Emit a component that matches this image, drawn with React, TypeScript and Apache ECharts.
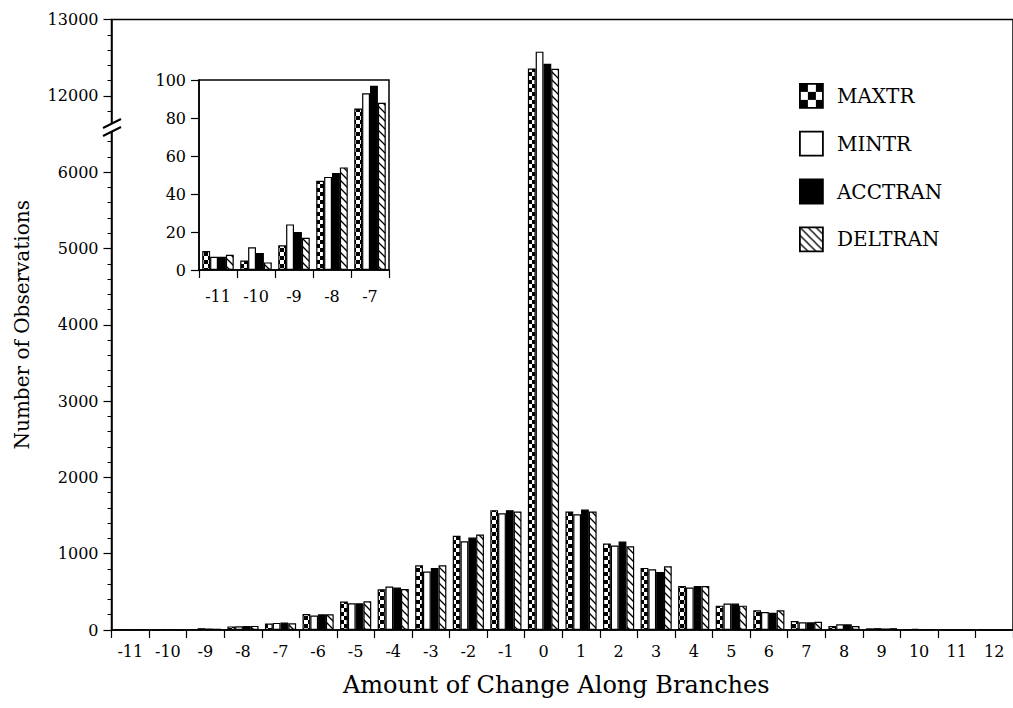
import React, { useEffect, useRef } from 'react';
import * as echarts from 'echarts';

const categories = ['-11', '-10', '-9', '-8', '-7', '-6', '-5', '-4', '-3', '-2', '-1', '0', '1', '2', '3', '4', '5', '6', '7', '8', '9', '10', '11', '12'];
const insetCategories = ['-11', '-10', '-9', '-8', '-7'];
const seriesNames = ['MAXTR', 'MINTR', 'ACCTRAN', 'DELTRAN'];

const maxtr = [10, 5, 13, 47, 85, 210, 372, 534, 849, 1234, 1571, 12360, 1553, 1133, 814, 577, 319, 258, 118, 52, 22, 12, 4, 2];
const mintr = [7, 12, 24, 49, 93, 190, 350, 569, 766, 1164, 1531, 12580, 1518, 1106, 796, 556, 346, 236, 101, 74, 25, 15, 5, 1];
const acctran = [7, 9, 20, 51, 97, 205, 350, 556, 814, 1212, 1571, 12420, 1579, 1159, 761, 577, 346, 227, 101, 74, 20, 10, 3, 1];
const deltran = [8, 4, 17, 54, 88, 205, 376, 538, 849, 1251, 1553, 12355, 1553, 1098, 836, 577, 319, 258, 109, 52, 24, 13, 4, 2];

const mainTicks = [0, 1000, 2000, 3000, 4000, 5000, 6000, 12000, 13000];
const insetTicks = [0, 20, 40, 60, 80, 100];

const BREAK_SHIFT = 5000; // values above the break are drawn 5000 lower
const BREAK_FROM = 10000;

const FONT = 'DejaVu Serif';

function tile(size: number, draw: (ctx: CanvasRenderingContext2D, s: number) => void) {
  const c = document.createElement('canvas');
  c.width = size;
  c.height = size;
  const ctx = c.getContext('2d') as CanvasRenderingContext2D;
  ctx.fillStyle = '#fff';
  ctx.fillRect(0, 0, size, size);
  draw(ctx, size);
  return { image: c.toDataURL(), repeat: 'repeat', imageWidth: size, imageHeight: size } as any;
}

function checker(cell: number) {
  return tile(cell * 2, (ctx) => {
    ctx.fillStyle = '#000';
    ctx.fillRect(0, 0, cell, cell);
    ctx.fillRect(cell, cell, cell, cell);
  });
}

function hatch(step: number) {
  return tile(step, (ctx, s) => {
    ctx.strokeStyle = '#000';
    ctx.lineWidth = 1.3;
    for (const k of [-s, 0, s]) {
      ctx.beginPath();
      ctx.moveTo(-2, -2 + k);
      ctx.lineTo(s + 2, s + 2 + k);
      ctx.stroke();
    }
  });
}

export default function App() {
  const ref = useRef<HTMLDivElement>(null);

  useEffect(() => {
    if (!ref.current) return;
    const chart = echarts.init(ref.current, undefined, { renderer: 'svg' });

    const checkerFill = checker(4);
    const checkerLegend = checker(8);
    const hatchFill = hatch(8);
    const fills: any[] = [checkerFill, '#fff', '#000', hatchFill];
    const values = [maxtr, mintr, acctran, deltran];

    const shown = (v: number) => (v > BREAK_FROM ? v - BREAK_SHIFT : v);
    const tickLabel = (v: number) => {
      const real = v >= 7000 ? v + BREAK_SHIFT : v;
      return mainTicks.includes(real) ? String(real) : '';
    };

    const textBase = { fontFamily: FONT, color: '#000' };
    const axisLine = { lineStyle: { color: '#000', width: 1.5 } };

    const mainSeries = seriesNames.map((name, i) => ({
      name,
      type: 'bar',
      xAxisIndex: 0,
      yAxisIndex: 0,
      data: values[i].map(shown),
      barGap: '0%',
      barCategoryGap: '17%',
      itemStyle: { color: fills[i], borderColor: '#000', borderWidth: 1.2 },
    }));

    const insetSeries = seriesNames.map((name, i) => ({
      name,
      type: 'bar',
      xAxisIndex: 1,
      yAxisIndex: 1,
      data: values[i].slice(0, insetCategories.length),
      barGap: '0%',
      barCategoryGap: '17%',
      itemStyle: { color: fills[i], borderColor: '#000', borderWidth: 1.2 },
    }));

    chart.setOption({
      animation: false,
      backgroundColor: '#fff',
      textStyle: { fontFamily: FONT },
      grid: [
        { left: 111.5, right: -9.5, top: 19.6, bottom: 78, show: true, borderColor: '#000', borderWidth: 1.5, backgroundColor: 'transparent' },
        { left: 199, top: 80, width: 190, height: 190, show: true, borderColor: '#000', borderWidth: 1.5, backgroundColor: 'transparent' },
      ],
      legend: {
        orient: 'vertical',
        left: 799,
        top: 83,
        padding: 0,
        itemWidth: 23,
        itemHeight: 24,
        itemGap: 22,
        icon: 'rect',
        selectedMode: false,
        itemStyle: { borderColor: '#000', borderWidth: 1.8 },
        textStyle: { ...textBase, fontSize: 20, padding: [0, 0, 0, 9] },
        data: [
          { name: 'MAXTR', itemStyle: { color: checkerLegend } },
          { name: 'MINTR' },
          { name: 'ACCTRAN' },
          { name: 'DELTRAN' },
        ],
      },
      xAxis: [
        {
          type: 'category',
          gridIndex: 0,
          data: categories,
          axisLine,
          axisTick: { show: true, interval: 0, alignWithLabel: false, length: 8, lineStyle: { color: '#000', width: 1.2 } },
          axisLabel: { ...textBase, interval: 0, fontSize: 16, margin: 13 },
          name: 'Amount of Change Along Branches',
          nameLocation: 'middle',
          nameGap: 43,
          nameTextStyle: { ...textBase, fontSize: 24, padding: [0, 12, 0, 0] },
        },
        {
          type: 'category',
          gridIndex: 1,
          data: insetCategories,
          axisLine,
          axisTick: { show: true, interval: 0, alignWithLabel: false, length: 8, lineStyle: { color: '#000', width: 1.2 } },
          axisLabel: { ...textBase, interval: 0, fontSize: 16, margin: 18 },
        },
      ],
      yAxis: [
        {
          type: 'value',
          gridIndex: 0,
          min: 0,
          max: 8000,
          interval: 1000,
          axisLine: { show: true, ...axisLine },
          axisTick: { show: true, length: 8, lineStyle: { color: '#000', width: 1.2 } },
          minorTick: { show: true, splitNumber: 5, length: 4, lineStyle: { color: '#000', width: 1 } },
          splitLine: { show: false },
          axisLabel: { ...textBase, fontSize: 16, margin: 13, formatter: tickLabel },
          name: 'Number of Observations',
          nameLocation: 'middle',
          nameGap: 80,
          nameTextStyle: { ...textBase, fontSize: 20 },
        },
        {
          type: 'value',
          gridIndex: 1,
          min: 0,
          max: 100,
          interval: 20,
          axisLine: { show: true, ...axisLine },
          axisTick: { show: true, length: 8, lineStyle: { color: '#000', width: 1.2 } },
          splitLine: { show: false },
          axisLabel: { ...textBase, fontSize: 16, margin: 13, formatter: (v: number) => (insetTicks.includes(v) ? String(v) : '') },
        },
      ],
      graphic: [
        { type: 'rect', shape: { x: 104, y: 123, width: 16, height: 9 }, style: { fill: '#fff' }, z: 100 },
        { type: 'line', shape: { x1: 103, y1: 128, x2: 121, y2: 119 }, style: { stroke: '#000', lineWidth: 2 }, z: 101 },
        { type: 'line', shape: { x1: 103, y1: 136, x2: 121, y2: 127 }, style: { stroke: '#000', lineWidth: 2 }, z: 101 },
      ],
      series: [...mainSeries, ...insetSeries],
    });

    return () => chart.dispose();
  }, []);

  return <div ref={ref} style={{ width: 1013, height: 708, position: 'absolute', left: 0, top: 0 }} />;
}
